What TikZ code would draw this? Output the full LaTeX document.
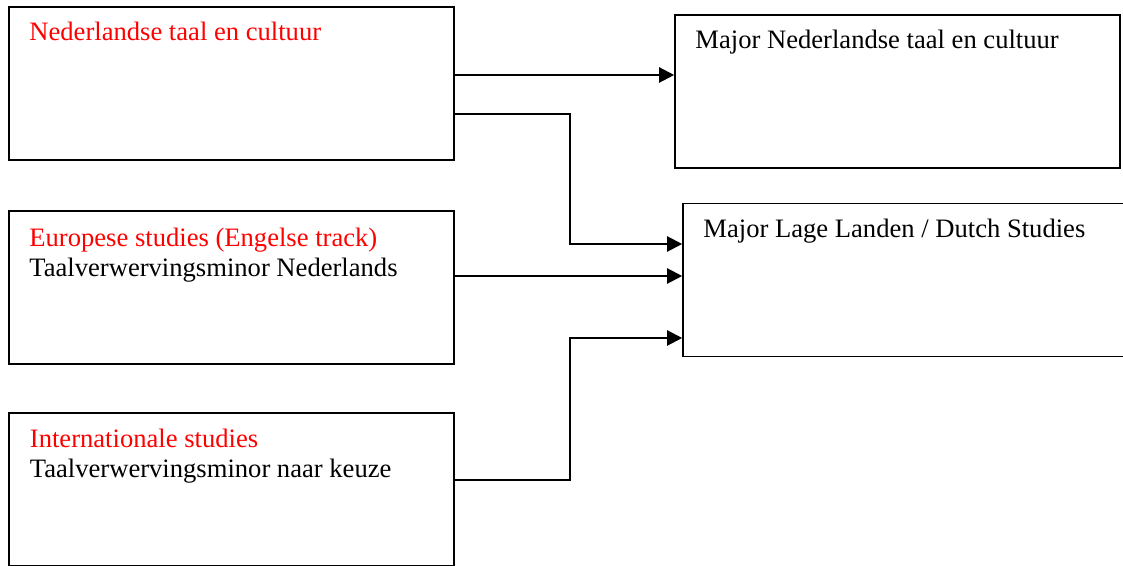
\documentclass[tikz,border=0pt]{standalone}
\usepackage{fontspec}
\setmainfont{Liberation Serif}
\usetikzlibrary{arrows.meta}

\begin{document}
\begin{tikzpicture}[x=0.5pt, y=-0.5pt,
  box/.style={draw, line width=0.8pt, minimum width=222.5pt, minimum height=76.5pt, inner sep=0pt},
  lbl/.style={anchor=base west, inner sep=0pt, font=\fontsize{13.3}{16}\selectfont},
  conn/.style={-{Triangle[length=7.5pt, width=7.5pt]}, line width=1.1pt}]
  \useasboundingbox (0,0) rectangle (1123,566);
  \foreach \n/\cx/\cy in {nlt/231.5/83.5, eur/231.5/287.5, int/231.5/489.5, mnl/897.5/91.5, mld/905.5/280}
    \node[box] (\n) at (\cx,\cy) {};
  \node[lbl, red] (nltA) at (29,41) {Nederlandse taal en cultuur};
  \node[lbl, red] (eurA) at (29,247) {Europese studies (Engelse track)};
  \node[lbl] (eurB) at (29,277) {Taalverwervingsminor Nederlands};
  \node[lbl, red] (intA) at (29.5,447) {Internationale studies};
  \node[lbl] (intB) at (29.5,477) {Taalverwervingsminor naar keuze};
  \node[lbl] (mnlA) at (695,49) {Major Nederlandse taal en cultuur};
  \node[lbl] (mldA) at (703,238) {Major Lage Landen / Dutch Studies};

  \draw[conn] (nlt.east |- 0,75) -- (mnl.west |- 0,75);
  \draw[conn] (nlt.east |- 0,114) -- ++(115,0) |- (mld.west |- 0,244);
  \draw[conn] (eur.east |- 0,276) -- (mld.west |- 0,276);
  \draw[conn] (int.east |- 0,480) -- ++(115,0) |- (mld.west |- 0,338);
\end{tikzpicture}
\end{document}
